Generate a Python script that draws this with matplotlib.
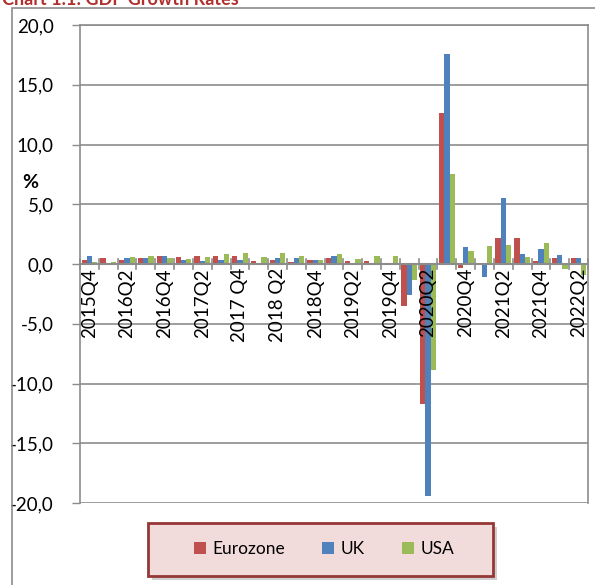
import numpy as np
import matplotlib
matplotlib.use('Agg')
import matplotlib.pyplot as plt
from matplotlib.patches import Rectangle
from matplotlib.transforms import offset_copy

plt.rcParams['font.family'] = ['Lato', 'DejaVu Sans']

# quarterly GDP growth, % q/q, 2015Q4 .. 2022Q2
quarters = ['2015Q4', '2016Q1', '2016Q2', '2016Q3', '2016Q4', '2017Q1', '2017Q2',
            '2017Q3', '2017 Q4', '2018Q1', '2018 Q2', '2018Q3', '2018Q4', '2019Q1',
            '2019Q2', '2019Q3', '2019Q4', '2020Q1', '2020Q2', '2020Q3', '2020Q4',
            '2021Q1', '2021Q2', '2021Q3', '2021Q4', '2022Q1', '2022Q2']
eurozone = [0.35, 0.5, 0.3, 0.5, 0.7, 0.55, 0.65, 0.7, 0.7, 0.28, 0.36, 0.2, 0.3, 0.47,
            0.22, 0.28, 0.05, -3.5, -11.7, 12.6, -0.3, -0.05, 2.15, 2.15, 0.28, 0.47, 0.53]
uk = [0.67, 0.1, 0.5, 0.5, 0.7, 0.3, 0.25, 0.33, 0.3, 0.05, 0.5, 0.5, 0.3, 0.7,
      -0.1, 0.05, 0.0, -2.6, -19.4, 17.6, 1.45, -1.1, 5.5, 0.83, 1.25, 0.72, 0.47]
usa = [0.2, 0.2, 0.6, 0.7, 0.5, 0.45, 0.55, 0.85, 0.95, 0.6, 0.95, 0.7, 0.35, 0.8,
       0.4, 0.7, 0.65, -1.3, -8.9, 7.5, 1.1, 1.5, 1.6, 0.6, 1.75, -0.4, -0.9]
series = [('Eurozone', eurozone, '#C0504D'), ('UK', uk, '#4F81BD'), ('USA', usa, '#9BBB59')]

W, H = 595, 585
fig = plt.figure(figsize=(W / 100, H / 100), dpi=100)

# outer chart frame and the clipped title above it
fig.patches.append(Rectangle((12 / W, -0.1), 1.2, 1 - 8 / H + 0.1, transform=fig.transFigure,
                             fill=False, edgecolor='#8c8c8c', lw=1.2))
fig.text(2 / W, 1 - 5 / H, 'Chart 1.1: GDP Growth Rates', color='#B0302E',
         fontsize=13, fontweight='bold', va='baseline', ha='left')

ax = fig.add_axes([80 / W, 1 - 503 / H, 508 / W, 478 / H])
x = np.arange(len(quarters))
bw = 0.28
for k, (name, vals, col) in enumerate(series):
    ax.bar(x + (k - 1) * bw, vals, bw, color=col, label=name, zorder=3)

ax.set_xlim(-0.5, len(quarters) - 0.5)
ax.set_ylim(-20, 20)
yt = np.arange(-20, 21, 5)
ax.set_yticks(yt)
ax.set_yticklabels([f'{v:.1f}'.replace('.', ',') for v in yt], fontsize=13.5)
ax.tick_params(axis='y', length=6, width=1, color='#8c8c8c', pad=13)
ax.grid(axis='y', color='#8c8c8c', lw=1.2, zorder=0)
for s in ax.spines.values():
    s.set_color('#8c8c8c')
    s.set_linewidth(1.2)
ax.spines['bottom'].set_visible(False)
ax.axhline(0, color='#8c8c8c', lw=1.5, zorder=4)
ax.set_xticks([])

# category ticks crossing the zero line, labels every second quarter
for i in range(len(quarters) + 1):
    ax.plot([i - 0.5, i - 0.5], [-0.4, 0.4], color='#8c8c8c', lw=1.2, zorder=4,
            clip_on=False)
trans = offset_copy(ax.transData, fig=fig, x=0, y=-4, units='dots')
for i in range(0, len(quarters), 2):
    ax.text(x[i], 0, quarters[i], rotation=90, ha='center', va='top', fontsize=13.5,
            transform=trans, zorder=5)

fig.text(30 / W, 1 - 182 / H, '%', fontsize=14, fontweight='bold', ha='center', va='center')

# legend box with drop shadow, entries centred inside
lx0, ly0, lx1, ly1 = 148, 523, 493, 576
fig.patches.append(Rectangle(((lx0 + 4) / W, 1 - (ly1 + 4) / H), (lx1 - lx0) / W,
                             (ly1 - ly0) / H, transform=fig.transFigure,
                             facecolor='#b0b0b0', edgecolor='none', alpha=0.6))
fig.patches.append(Rectangle((lx0 / W, 1 - ly1 / H), (lx1 - lx0) / W, (ly1 - ly0) / H,
                             transform=fig.transFigure, facecolor='#F2DCDB',
                             edgecolor='#953735', lw=2))
leg = fig.legend(loc='center', ncol=3, fontsize=12.5, frameon=False,
                 bbox_to_anchor=(324 / W, 1 - 549 / H),
                 handlelength=0.7, handleheight=0.7, handletextpad=0.35,
                 columnspacing=2.15)

fig.savefig('out.png', dpi=100)
